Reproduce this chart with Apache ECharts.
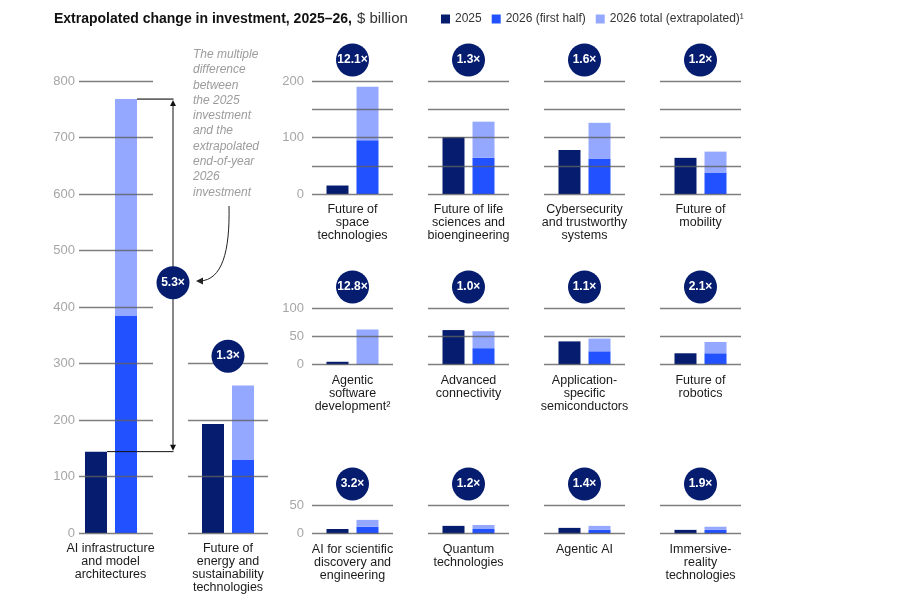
<!DOCTYPE html>
<html>
<head>
<meta charset="utf-8">
<script src="https://cdn.jsdelivr.net/npm/echarts@6/dist/echarts.min.js"></script>
<style>
  html, body { margin: 0; padding: 0; background: #fff; }
  #chart { width: 901px; height: 598px; }
</style>
</head>
<body>
<div id="chart"></div>
<script>
const categories = [
  'AI infrastructure\nand model\narchitectures',
  'Future of\nenergy and\nsustainability\ntechnologies',
  'Future of\nspace\ntechnologies',
  'Future of life\nsciences and\nbioengineering',
  'Cybersecurity\nand trustworthy\nsystems',
  'Future of\nmobility',
  'Agentic\nsoftware\ndevelopment²',
  'Advanced\nconnectivity',
  'Application-\nspecific\nsemiconductors',
  'Future of\nrobotics',
  'AI for scientific\ndiscovery and\nengineering',
  'Quantum\ntechnologies',
  'Agentic AI',
  'Immersive-\nreality\ntechnologies'
];
const values2025 = [144, 193, 15, 101, 78, 64, 5, 61, 41, 20, 8, 13.5, 10, 6.5];
const firstHalf2026 = [385, 130, 95, 64, 62, 38, 0, 29, 23.5, 20, 12, 8, 6.5, 6.5];
const total2026 = [768, 261, 190, 128, 126, 75, 62, 59, 46, 40, 24, 15, 13.5, 12];
const multiples = ['5.3×', '1.3×', '12.1×', '1.3×', '1.6×', '1.2×', '12.8×', '1.0×', '1.1×', '2.1×', '3.2×', '1.2×', '1.4×', '1.9×'];
const axisMax = [800, 300, 200, 200, 200, 200, 100, 100, 100, 100, 50, 50, 50, 50];
const gridStep = [100, 100, 50, 50, 50, 50, 50, 50, 50, 50, 50, 50, 50, 50];
const labelStep = [100, 100, 100, 100, 100, 100, 50, 50, 50, 50, 50, 50, 50, 50];
const seriesNames = ['2025', '2026 (first half)', '2026 total (extrapolated)¹'];
const noteLines = ['The multiple', 'difference', 'between', 'the 2025', 'investment', 'and the', 'extrapolated', 'end-of-year', '2026', 'investment'];

const navy = '#061d6f';
const blue = '#2251ff';
const light = '#94a8ff';
const font = '"Liberation Sans", Arial, sans-serif';

// grid boxes: [left, top, width, height]
const boxes = [[79, 81, 74, 452], [188, 363.5, 80, 169.5]];
const colLeft = [312, 428, 544, 660];
const rowTop = [81, 308, 505];
const rowH = [113, 56.6, 28.6];
rowTop.forEach((t, r) => colLeft.forEach(l => boxes.push([l, t, 81, rowH[r]])));

const grid = [], xAxis = [], yAxis = [], series = [];
boxes.forEach((b, i) => {
  grid.push({ left: b[0], top: b[1], width: b[2], height: b[3] });
  const showLabels = i === 0 || i === 2 || i === 6 || i === 10;
  xAxis.push({
    gridIndex: i, type: 'category', data: [categories[i]],
    axisLine: { show: false }, axisTick: { show: false },
    axisLabel: {
      interval: 0, color: '#1a1a1a', fontSize: 12.5, lineHeight: 13, margin: 9,
      fontFamily: font, padding: i === 0 ? [0, 11, 0, 0] : 0
    }
  });
  yAxis.push({
    gridIndex: i, type: 'value', min: 0, max: axisMax[i], interval: gridStep[i], z: 5,
    axisLine: { show: false }, axisTick: { show: false },
    splitLine: { lineStyle: { color: 'rgba(95,95,95,0.8)', width: 1.3 } },
    axisLabel: {
      show: showLabels, color: '#a6a6a6', fontSize: 13, fontFamily: font,
      margin: i === 0 ? 4 : 8,
      formatter: v => (v % labelStep[i] === 0 ? String(v) : '')
    }
  });
  series.push({
    name: seriesNames[0], type: 'bar', xAxisIndex: i, yAxisIndex: i,
    data: [values2025[i]], barWidth: 22, barGap: '36.4%', itemStyle: { color: navy }
  });
  series.push({
    name: seriesNames[1], type: 'bar', xAxisIndex: i, yAxisIndex: i, stack: 's' + i,
    data: [firstHalf2026[i]], barWidth: 22, barGap: '36.4%', itemStyle: { color: blue }
  });
  series.push({
    name: seriesNames[2], type: 'bar', xAxisIndex: i, yAxisIndex: i, stack: 's' + i,
    data: [total2026[i] - firstHalf2026[i]], barWidth: 22, barGap: '36.4%', itemStyle: { color: light }
  });
  if (i === 0) {
    series.push({
      name: 'pad', type: 'bar', xAxisIndex: 0, yAxisIndex: 0, data: [0],
      barWidth: 2, barGap: '36.4%', itemStyle: { color: 'rgba(0,0,0,0)' }, silent: true
    });
  }
});

const chart = echarts.init(document.getElementById('chart'));
chart.setOption({
  animation: false,
  backgroundColor: '#fff',
  textStyle: { fontFamily: font },
  title: {
    left: 54, top: 10, padding: 0,
    text: '{b|Extrapolated change in investment, 2025–26,} {n|$ billion}',
    textStyle: {
      rich: {
        b: { fontWeight: 'bold', fontSize: 14, color: '#111', fontFamily: font },
        n: { fontWeight: 'normal', fontSize: 15, color: '#333', fontFamily: font }
      }
    }
  },
  legend: {
    left: 441, top: 13, padding: 0, icon: 'rect', itemWidth: 9, itemHeight: 9, itemGap: 10,
    data: seriesNames,
    textStyle: { fontSize: 12, color: '#333', fontFamily: font }
  },
  grid, xAxis, yAxis, series
});

// bubbles and annotation
const toPx = (i, v) => chart.convertToPixel({ gridIndex: i }, [0, v]);
const graphics = [];
function bubble(cx, cy, text) {
  graphics.push({ type: 'circle', z: 100, shape: { cx, cy, r: 16.5 }, style: { fill: navy } });
  graphics.push({
    type: 'text', z: 101, x: cx, y: cy,
    style: { text, fill: '#fff', font: 'bold 12px ' + font, align: 'center', verticalAlign: 'middle',
      textAlign: 'center', textVerticalAlign: 'middle' }
  });
}
for (let i = 2; i < boxes.length; i++) {
  const p = toPx(i, axisMax[i]);
  bubble(p[0], p[1] - 21, multiples[i]);
}
const pe = toPx(1, 313);
bubble(pe[0], pe[1], multiples[1]);

const yTop = toPx(0, total2026[0])[1];
const yBot = toPx(0, values2025[0])[1];
const xb = 173;
graphics.push({ type: 'line', z: 90, shape: { x1: xb, y1: yTop + 3, x2: xb, y2: yBot - 3 }, style: { stroke: '#111', lineWidth: 1 } });
graphics.push({ type: 'line', z: 90, shape: { x1: 137, y1: yTop, x2: xb + 0.5, y2: yTop }, style: { stroke: '#666', lineWidth: 1.6 } });
graphics.push({ type: 'line', z: 90, shape: { x1: 107, y1: yBot, x2: xb + 0.5, y2: yBot }, style: { stroke: '#111', lineWidth: 1 } });
graphics.push({ type: 'polygon', z: 91, shape: { points: [[xb, yTop + 1], [xb - 3, yTop + 7], [xb + 3, yTop + 7]] }, style: { fill: '#111' } });
graphics.push({ type: 'polygon', z: 91, shape: { points: [[xb, yBot - 1], [xb - 3, yBot - 7], [xb + 3, yBot - 7]] }, style: { fill: '#111' } });
const pa = toPx(0, 443);
bubble(xb, pa[1], multiples[0]);

graphics.push({
  type: 'text', z: 100, x: 193, y: 47,
  style: { text: noteLines.join('\n'), fill: '#9c9c9c', font: 'italic 12px ' + font, lineHeight: 15.3 }
});
graphics.push({
  type: 'bezierCurve', z: 100,
  shape: { x1: 229, y1: 206, cpx1: 230, cpy1: 252, cpx2: 222, cpy2: 280, x2: 200, y2: 281 },
  style: { stroke: '#222', lineWidth: 1, fill: null }
});
graphics.push({ type: 'polygon', z: 101, shape: { points: [[196, 281], [203, 277.5], [203, 284.5]] }, style: { fill: '#222' } });

chart.setOption({ graphic: { elements: graphics } });
</script>
</body>
</html>
